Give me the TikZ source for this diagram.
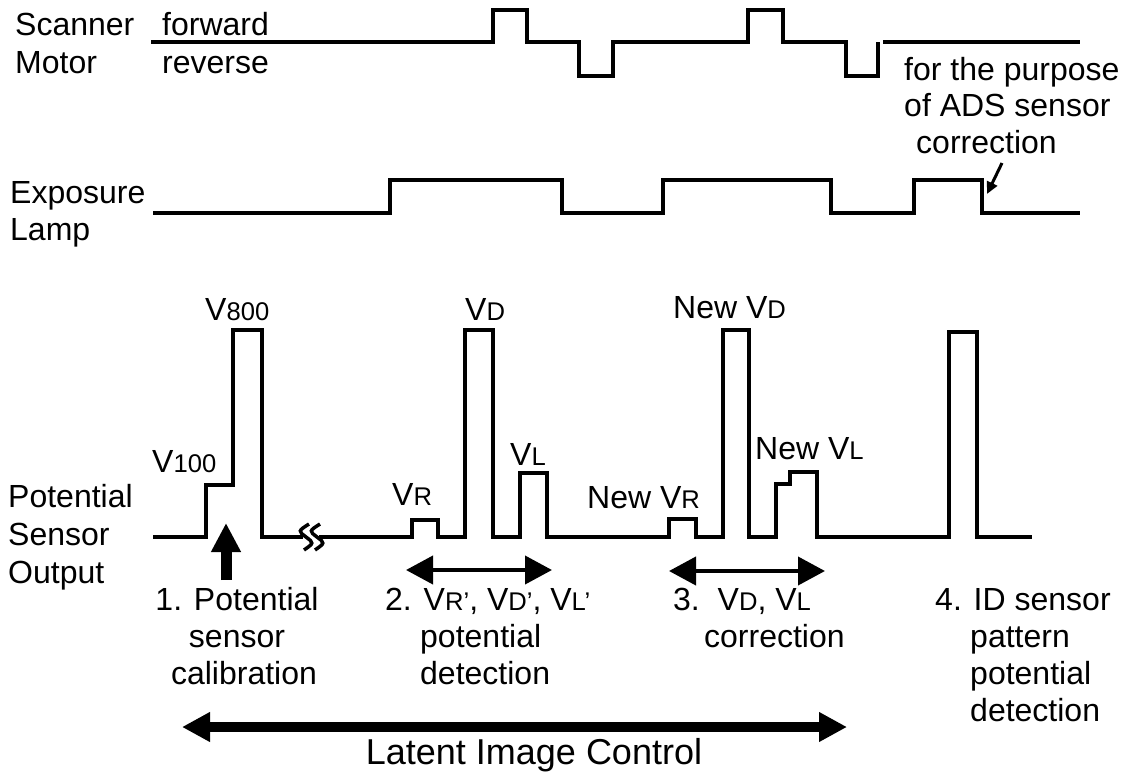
\documentclass[tikz,border=0pt]{standalone}
\usepackage{fontspec}
\setmainfont{Liberation Sans}
\usetikzlibrary{arrows.meta}
\newcommand\sbs[1]{{\fontsize{25.6}{30}\selectfont #1}}
\begin{document}
\begin{tikzpicture}[x=1pt,y=-1pt,
  wave/.style={line width=4pt, line join=miter},
  lbl/.style={inner sep=0pt, anchor=base west, font=\fontsize{32}{37}\selectfont},
  clbl/.style={inner sep=0pt, anchor=base, font=\fontsize{32}{37}\selectfont},
  thinarr/.style={line width=4pt, {Triangle[length=27pt,width=28pt]}-{Triangle[length=27pt,width=28pt]}},
  thickarr/.style={line width=10pt, {Triangle[length=28pt,width=28pt]}-{Triangle[length=28pt,width=28pt]}},
  uparr/.style={line width=11pt, -{Triangle[length=29pt,width=28pt]}},
  smallarr/.style={line width=3pt, -{Triangle[length=12pt,width=11pt]}},
  breakmark/.style={line width=3.5pt}]
\useasboundingbox (0,0) rectangle (1133,772);

% ---- left labels
\node[lbl] (scan) at (15,35) {Scanner};
\node[lbl] (motor) at (15,73) {Motor};
\node[lbl] (expo) at (10,203) {Exposure};
\node[lbl] (lamp) at (10,240) {Lamp};
\node[lbl] (pot) at (8,507) {Potential};
\node[lbl] (sens) at (8,545) {Sensor};
\node[lbl] (outp) at (8,583) {Output};

\node[lbl] (fwd) at (162,35) {forward};
\node[lbl] (rev) at (162,73) {reverse};

% ---- scanner motor waveform
\draw[wave] (151,42) -- (493,42) -- (493,10) -- (527,10) -- (527,42) -- (579,42) -- (579,76) -- (613,76) -- (613,42)
  -- (748,42) -- (748,10) -- (783,10) -- (783,42) -- (846,42) -- (846,76) -- (878,76) -- (878,42);
\draw[wave] (883,42) -- (1080,42);

% ---- ADS note
\node[lbl] (ads1) at (904,80) {for the purpose};
\node[lbl] (ads2) at (904,116) {of ADS sensor};
\node[lbl] (ads3) at (916,153) {correction};
\coordinate (adsfrom) at (1002,163);
\coordinate (adsto) at (987,194);
\draw[smallarr] (adsfrom) -- (adsto);

% ---- exposure lamp waveform
\draw[wave] (153,213) -- (390,213) -- (390,180) -- (562,180) -- (562,213) -- (663,213) -- (663,180) -- (831,180)
  -- (831,213) -- (914,213) -- (914,180) -- (982,180) -- (982,213) -- (1080,213);

% ---- potential sensor waveform
\draw[wave] (153,537) -- (206,537) -- (206,485) -- (233,485) -- (233,330) -- (262,330) -- (262,537) -- (303,537);
\draw[wave] (319,537) -- (412,537) -- (412,520) -- (438,520) -- (438,537) -- (465,537) -- (465,330) -- (493,330)
  -- (493,537) -- (520,537) -- (520,473) -- (547,473) -- (547,537) -- (669,537) -- (669,519) -- (696,519)
  -- (696,537) -- (723,537) -- (723,330) -- (749,330) -- (749,537) -- (776,537) -- (776,484) -- (790,484)
  -- (790,472) -- (817,472) -- (817,537) -- (949,537) -- (949,332) -- (977,332) -- (977,537) -- (1032,537);
% break mark
\draw[breakmark] (309,524) .. controls (298,531) .. (306,537) .. controls (314,543) .. (304,550);
\draw[breakmark] (320,524) .. controls (309,531) .. (317,537) .. controls (325,543) .. (315,550);

% ---- peak labels
\node[lbl] (v800) at (205,320) {V\sbs{800}};
\node[lbl] (v100) at (152,472) {V\sbs{100}};
\node[lbl] (vd) at (465,320) {V\sbs{D}};
\node[lbl] (vr) at (392,505) {V\sbs{R}};
\node[lbl] (vl) at (510,465) {V\sbs{L}};
\node[lbl] (nvd) at (673,318) {New V\sbs{D}};
\node[lbl] (nvr) at (587,508) {New V\sbs{R}};
\node[lbl] (nvl) at (755,459) {New V\sbs{L}};

% ---- arrows
\coordinate (upfrom) at (226,580);
\coordinate (upto) at (226,523);
\draw[uparr] (upfrom) -- (upto);
\coordinate (a2l) at (406,570);
\coordinate (a2r) at (552,570);
\draw[thinarr] (a2l) -- (a2r);
\coordinate (a3l) at (669,571);
\coordinate (a3r) at (825,571);
\draw[thinarr] (a3l) -- (a3r);
\coordinate (lil) at (182,727);
\coordinate (lir) at (847,727);
\draw[thickarr] (lil) -- (lir);

% ---- bottom labels
\node[clbl] (s1a) at (237,610) {1. Potential};
\node[clbl] (s1b) at (237,647) {sensor};
\node[clbl] (s1c) at (244,684) {calibration};

\node[lbl] (s2a) at (385,610) {2. V\sbs{R’}, V\sbs{D’}, V\sbs{L’}};
\node[lbl] (s2b) at (420,647) {potential};
\node[lbl] (s2c) at (420,684) {detection};

\node[lbl] (s3a) at (673,610) {3.\ \ V\sbs{D}, V\sbs{L}};
\node[lbl] (s3b) at (704,647) {correction};

\node[lbl] (s4a) at (935,610) {4. ID sensor};
\node[lbl] (s4b) at (970,647) {pattern};
\node[lbl] (s4c) at (970,684) {potential};
\node[lbl] (s4d) at (970,721) {detection};

\node[inner sep=0pt, anchor=base, font=\fontsize{36}{40}\selectfont] (lic) at (534,764) {Latent Image Control};
\end{tikzpicture}
\end{document}
